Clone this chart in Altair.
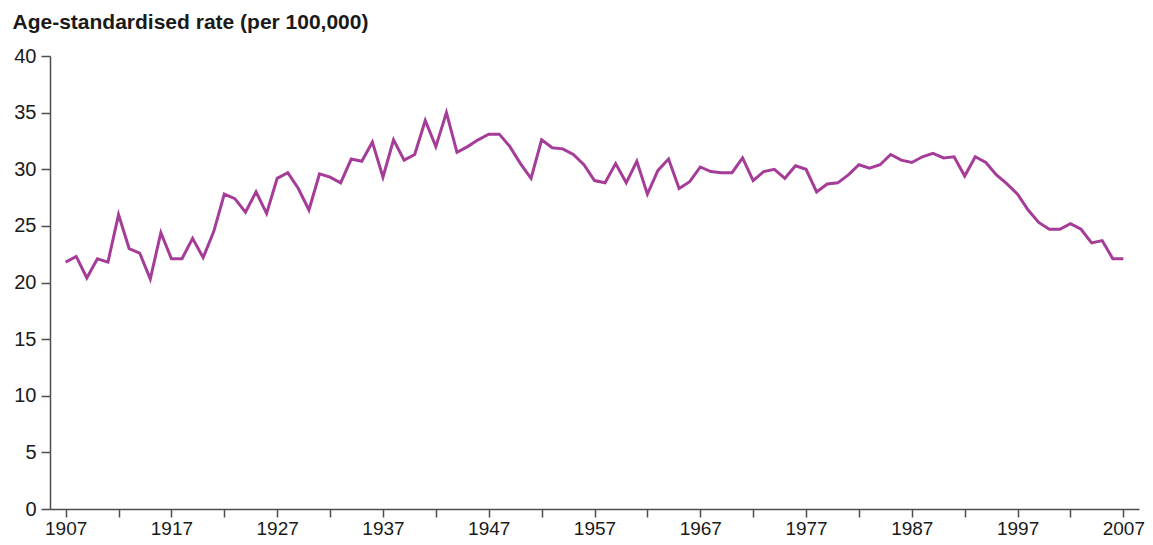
import altair as alt
import pandas as pd

years = list(range(1907, 2008))
rates = [
    21.8, 22.3, 20.4, 22.1, 21.8, 26.0, 23.0, 22.6, 20.3, 24.4,   # 1907-1916
    22.1, 22.1, 23.9, 22.2, 24.5, 27.8, 27.4, 26.2, 28.0, 26.1,   # 1917-1926
    29.2, 29.7, 28.3, 26.4, 29.6, 29.3, 28.8, 30.9, 30.7, 32.4,   # 1927-1936
    29.3, 32.6, 30.8, 31.3, 34.3, 32.0, 35.0, 31.5, 32.0, 32.6,   # 1937-1946
    33.1, 33.1, 32.0, 30.5, 29.2, 32.6, 31.9, 31.8, 31.3, 30.4,   # 1947-1956
    29.0, 28.8, 30.5, 28.8, 30.7, 27.8, 29.9, 30.9, 28.3, 28.9,   # 1957-1966
    30.2, 29.8, 29.7, 29.7, 31.0, 29.0, 29.8, 30.0, 29.2, 30.3,   # 1967-1976
    30.0, 28.0, 28.7, 28.8, 29.5, 30.4, 30.1, 30.4, 31.3, 30.8,   # 1977-1986
    30.6, 31.1, 31.4, 31.0, 31.1, 29.4, 31.1, 30.6, 29.5, 28.7,   # 1987-1996
    27.8, 26.4, 25.3, 24.7, 24.7, 25.2, 24.7, 23.5, 23.7, 22.1,   # 1997-2006
    22.1,                                                         # 2007
]
x_ticks = list(range(1907, 2008, 5))
y_ticks = [0, 5, 10, 15, 20, 25, 30, 35, 40]
y_title = "Age-standardised rate (per 100,000)"

df = pd.DataFrame({"year": years, "rate": rates})

font = "Liberation Sans"

chart = (
    alt.Chart(df)
    .mark_line(color="#a43c98", strokeWidth=3)
    .encode(
        x=alt.X(
            "year:Q",
            scale=alt.Scale(domain=[1905.52, 2008.48], nice=False, zero=False),
            axis=alt.Axis(
                values=x_ticks,
                format="d",
                labelExpr="(datum.value - 1907) % 10 == 0 ? datum.label : ''",
                title=None,
                grid=False,
                domainColor="#4d4d4d",
                domainWidth=1.5,
                tickColor="#4d4d4d",
                tickWidth=1.5,
                tickSize=8,
                labelFont=font,
                labelFontSize=19,
                labelColor="#1a1a1a",
                labelPadding=2,
                labelFlush=False,
            ),
        ),
        y=alt.Y(
            "rate:Q",
            scale=alt.Scale(domain=[0, 40], nice=False),
            axis=alt.Axis(
                values=y_ticks,
                title=y_title,
                titleAngle=0,
                titleAlign="left",
                titleBaseline="alphabetic",
                titleX=-38,
                titleY=-28,
                titleFont=font,
                titleFontSize=21,
                titleFontWeight="bold",
                titleColor="#1a1a1a",
                grid=False,
                domainColor="#4d4d4d",
                domainWidth=1.5,
                tickColor="#4d4d4d",
                tickWidth=1.5,
                tickSize=9,
                labelFont=font,
                labelFontSize=20,
                labelColor="#1a1a1a",
                labelPadding=5,
            ),
        ),
    )
    .properties(
        width=1089,
        height=453,
        autosize=alt.AutoSizeParams(type="none"),
        padding={"left": 42, "top": 48, "right": 6, "bottom": 28},
    )
    .configure_view(stroke=None)
)

chart.save("out.html", embed_options={"renderer": "svg", "actions": False})
